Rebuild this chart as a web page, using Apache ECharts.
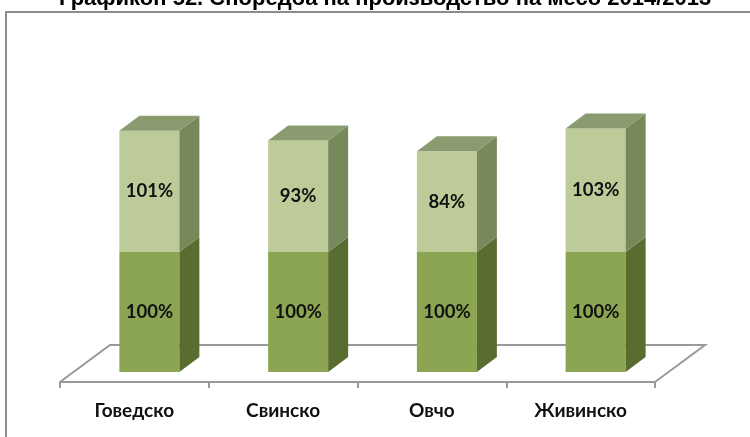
<!DOCTYPE html>
<html>
<head>
<meta charset="utf-8">
<script src="https://cdn.jsdelivr.net/npm/echarts@6/dist/echarts.min.js"></script>
<style>
  html, body { margin: 0; padding: 0; background: #fff; }
  #main { width: 750px; height: 437px; }
</style>
</head>
<body>
<div id="main"></div>
<script>
var categories = ['Говедско', 'Свинско', 'Овчо', 'Живинско'];
var base2013 = [100, 100, 100, 100];
var ratio2014 = [101, 93, 84, 103];

// пресметка на 3Д изглед
var BW = 60, DX = 20, DY = -15, SHIFT_X = 15, SHIFT_Y = -10;

function makeRenderer(frontColor, sideColor, topColor, withTop) {
  return function (params, api) {
    var i = api.value(0);
    var lo = api.value(1);
    var hi = api.value(2);
    var p0 = api.coord([i, lo]);
    var p1 = api.coord([i, hi]);
    var x = p0[0] + SHIFT_X - BW / 2;
    var yb = p0[1] + SHIFT_Y;
    var yt = p1[1] + SHIFT_Y;
    var children = [
      {
        type: 'rect',
        shape: { x: x, y: yt, width: BW, height: yb - yt },
        style: { fill: frontColor }
      },
      {
        type: 'polygon',
        shape: { points: [[x + BW, yt], [x + BW + DX, yt + DY], [x + BW + DX, yb + DY], [x + BW, yb]] },
        style: { fill: sideColor }
      }
    ];
    if (withTop) {
      children.push({
        type: 'polygon',
        shape: { points: [[x, yt], [x + DX, yt + DY], [x + BW + DX, yt + DY], [x + BW, yt]] },
        style: { fill: topColor }
      });
    }
    children.push({
      type: 'text',
      style: {
        text: api.value(3) + '%',
        x: x + BW / 2,
        y: (yt + yb) / 2,
        align: 'center',
        verticalAlign: 'middle',
        font: 'bold 18.5px Lato',
        fill: '#111'
      }
    });
    return { type: 'group', children: children };
  };
}

var lowerData = categories.map(function (c, i) { return [i, 0, base2013[i], base2013[i]]; });
var upperData = categories.map(function (c, i) { return [i, base2013[i], base2013[i] + ratio2014[i], ratio2014[i]]; });

var myChart = echarts.init(document.getElementById('main'));
var option = {
  animation: false,
  title: {
    text: 'Графикон 52. Споредба на производство на месо 2014/2013',
    left: 54,
    top: -17,
    textStyle: { fontFamily: 'Liberation Sans', fontWeight: 'bold', fontSize: 22, color: '#000' }
  },
  graphic: [
    {
      type: 'rect',
      shape: { x: 6, y: 12, width: 760, height: 450 },
      style: { fill: 'none', stroke: '#8c8c8c', lineWidth: 2 },
      silent: true
    }
  ],
  grid: { left: 60, right: 95, top: 82, bottom: 55 },
  xAxis: {
    type: 'category',
    data: categories,
    axisLine: { lineStyle: { color: '#999', width: 2 } },
    axisTick: { show: true, length: 6, lineStyle: { color: '#999', width: 2 } },
    axisLabel: { margin: 19, fontFamily: 'Lato', fontWeight: 'bold', fontSize: 19, color: '#111' }
  },
  yAxis: { type: 'value', min: 0, max: 250, show: false },
  series: [
    {
      type: 'custom',
      z: 1,
      silent: true,
      data: [[0]],
      renderItem: function (params, api) {
        var cs = params.coordSys;
        var fl = [cs.x, cs.y + cs.height];
        var fr = [cs.x + cs.width, cs.y + cs.height];
        return {
          type: 'polyline',
          shape: { points: [fl, [fl[0] + 50, fl[1] - 37], [fr[0] + 50, fr[1] - 37], fr] },
          style: { stroke: '#999', lineWidth: 2, fill: 'none' }
        };
      }
    },
    {
      type: 'custom',
      name: '2013',
      z: 2,
      data: lowerData,
      renderItem: makeRenderer('#8ba552', '#5a6d31', '#8a9c6e', false)
    },
    {
      type: 'custom',
      name: '2014',
      z: 3,
      data: upperData,
      renderItem: makeRenderer('#bccb98', '#77885b', '#8a9c6f', true)
    }
  ]
};
option && myChart.setOption(option);
</script>
</body>
</html>
